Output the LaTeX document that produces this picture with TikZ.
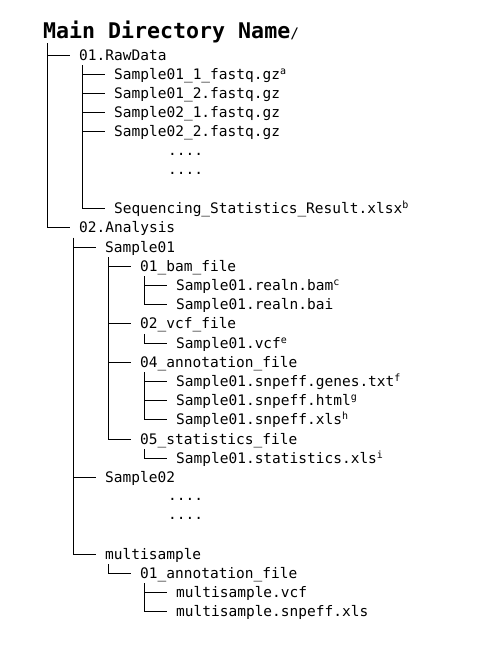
\documentclass[tikz,border=0pt]{standalone}
\usepackage{fontspec}
\usepackage{tikz}
\usetikzlibrary{calc}
\newfontfamily\treefont{DejaVu Sans Mono}
\newcommand\fnmark[1]{\raisebox{5pt}{\fontsize{10}{10}\selectfont #1}}
\def\branch(#1)(#2){\draw[treeline] ($(#2.west |- #1.west)+(-31.5,10)$) |- ($(#2.west)+(-9,0)$);}
\tikzset{
  fileitem/.style={anchor=west, inner sep=0pt, text height=12pt, text depth=2pt,
    font=\treefont\fontsize{14.5}{14.5}\selectfont},
  rootitem/.style={fileitem, font=\treefont\bfseries\fontsize{21.6}{21.6}\selectfont},
  treeline/.style={line width=1pt, black}
}
\begin{document}
\begin{tikzpicture}[x=1pt,y=-1pt]
			%%%%% START %%%%%
			\useasboundingbox (0,0) rectangle (486,649);
			
			\node[rootitem] (root) at (43, 33) {Main Directory Name{\mdseries\fontsize{14.5}{14.5}\selectfont/}};
			
			\node[fileitem] (raw) at (79, 55) {01.RawData};
			\node[fileitem] (rawa) at (114, 74.2) {Sample01\_1\_fastq.gz\fnmark{a}};
			\node[fileitem] (rawb) at (114, 93.4) {Sample01\_2.fastq.gz};
			\node[fileitem] (rawc) at (114, 112.6) {Sample02\_1.fastq.gz};
			\node[fileitem] (rawd) at (114, 131.8) {Sample02\_2.fastq.gz};
			\node[fileitem] (rawdots1) at (168, 150) {....};
			\node[fileitem] (rawdots2) at (168, 169.2) {....};
			\node[fileitem] (seqstat) at (114, 208.6) {Sequencing\_Statistics\_Result.xlsx\fnmark{b}};
			
			\node[fileitem] (ana) at (79, 227.8) {02.Analysis};
			\node[fileitem] (sa) at (105, 247) {Sample01};
			\node[fileitem] (bam) at (140, 266.2) {01\_bam\_file};
			\node[fileitem] (bama) at (176, 285.4) {Sample01.realn.bam\fnmark{c}};
			\node[fileitem] (bamb) at (176, 304.6) {Sample01.realn.bai};
			\node[fileitem] (vcf) at (140, 323.8) {02\_vcf\_file};
			\node[fileitem] (vcfa) at (176, 343) {Sample01.vcf\fnmark{e}};
			\node[fileitem] (anno) at (140, 362.2) {04\_annotation\_file};
			\node[fileitem] (annoa) at (176, 381.4) {Sample01.snpeff.genes.txt\fnmark{f}};
			\node[fileitem] (annob) at (176, 400.6) {Sample01.snpeff.html\fnmark{g}};
			\node[fileitem] (annoc) at (176, 419.8) {Sample01.snpeff.xls\fnmark{h}};
			\node[fileitem] (stats) at (140, 439) {05\_statistics\_file};
			\node[fileitem] (statsa) at (176, 458.2) {Sample01.statistics.xls\fnmark{i}};
			
			\node[fileitem] (sb) at (105, 477.4) {Sample02};
			\node[fileitem] (sbdots1) at (168, 495.6) {....};
			\node[fileitem] (sbdots2) at (168, 514.8) {....};
			
			\node[fileitem] (multi) at (105, 554.2) {multisample};
			\node[fileitem] (mann) at (140, 573.4) {01\_annotation\_file};
			\node[fileitem] (manna) at (176, 592.6) {multisample.vcf};
			\node[fileitem] (mannb) at (176, 611.8) {multisample.snpeff.xls};
			
			% tree lines
			\branch(root)(raw)
			\branch(root)(ana)
			\branch(raw)(rawa)
			\branch(raw)(rawb)
			\branch(raw)(rawc)
			\branch(raw)(rawd)
			\branch(raw)(seqstat)
			\branch(ana)(sa)
			\branch(ana)(sb)
			\branch(ana)(multi)
			\branch(sa)(bam)
			\branch(sa)(vcf)
			\branch(sa)(anno)
			\branch(sa)(stats)
			\branch(bam)(bama)
			\branch(bam)(bamb)
			\branch(vcf)(vcfa)
			\branch(anno)(annoa)
			\branch(anno)(annob)
			\branch(anno)(annoc)
			\branch(stats)(statsa)
			\branch(multi)(mann)
			\branch(mann)(manna)
			\branch(mann)(mannb)
			%%%%% END %%%%%
\end{tikzpicture}
\end{document}
